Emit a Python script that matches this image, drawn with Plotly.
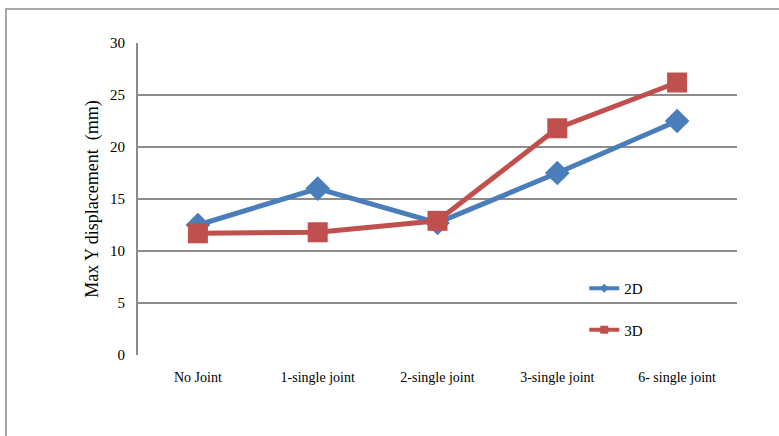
import plotly.graph_objects as go

categories = ["No Joint", "1-single joint", "2-single joint", "3-single joint", "6- single joint"]
disp_2d = [12.5, 16.0, 12.7, 17.5, 22.5]
disp_3d = [11.7, 11.8, 12.9, 21.8, 26.2]
y_ticks = [0, 5, 10, 15, 20, 25, 30]
series_names = ["2D", "3D"]

BLUE = "#4a7ebb"
RED = "#c0504d"
GRID = "#8c8c8c"
FONT = "'Times New Roman', 'Liberation Serif', 'DejaVu Serif', serif"

W, H = 779, 436
L, R, T, B = 138, 42, 43, 81

fig = go.Figure()
fig.add_trace(go.Scatter(
    x=categories, y=disp_2d, name=series_names[0], mode="lines+markers",
    line=dict(color=BLUE, width=5),
    marker=dict(symbol="diamond", size=19, color=BLUE),
    showlegend=False,
))
fig.add_trace(go.Scatter(
    x=categories, y=disp_3d, name=series_names[1], mode="lines+markers",
    line=dict(color=RED, width=5),
    marker=dict(symbol="square", size=20, color=RED),
    showlegend=False,
))

# legend keys with small markers, as in the spreadsheet style
for name, color, sym, sz, grp in [(series_names[0], BLUE, "diamond", 7, "a"),
                                  (series_names[1], RED, "square", 8, "b")]:
    fig.add_trace(go.Scatter(
        x=[None], y=[None], name=name, mode="lines+markers",
        line=dict(color=color, width=4),
        marker=dict(symbol=sym, size=sz, color=color),
        legendgroup=grp, showlegend=True,
    ))

pw = W - L - R
ph = H - T - B
# outer chart frame, running off the right and bottom edges
fig.add_shape(
    type="rect", xref="paper", yref="paper", layer="below",
    x0=(6 - L) / pw, x1=1 + (W + 20 - (W - R)) / pw,
    y0=-(H + 20 - (H - B)) / ph, y1=1 + (T - 9) / ph,
    line=dict(color=GRID, width=1.5), fillcolor="rgba(0,0,0,0)",
)

fig.update_layout(
    width=W, height=H,
    margin=dict(l=L, r=R, t=T, b=B, pad=0),
    paper_bgcolor="white", plot_bgcolor="white",
    font=dict(family=FONT, size=14, color="black"),
    showlegend=True,
    legend=dict(
        x=0.745, y=0.266, xanchor="left", yanchor="top",
        bgcolor="rgba(0,0,0,0)", font=dict(family=FONT, size=15),
        tracegroupgap=19, itemwidth=30,
    ),
    xaxis=dict(
        type="category", range=[-0.5, 4.5],
        showgrid=False, showline=False, zeroline=False,
        ticks="", tickfont=dict(size=14, family=FONT),
        ticklabelstandoff=12,
    ),
    yaxis=dict(
        range=[0, 30], tickvals=y_ticks, ticktext=[str(v) for v in y_ticks],
        showgrid=True, gridcolor=GRID, gridwidth=2,
        showline=True, linecolor=GRID, linewidth=2,
        zeroline=False, ticks="", ticklabelstandoff=8,
        tickfont=dict(size=15, family=FONT),
        title=dict(text="Max Y displacement  (mm)", font=dict(size=18, family=FONT), standoff=7),
    ),
)

fig.write_html("out.html")
